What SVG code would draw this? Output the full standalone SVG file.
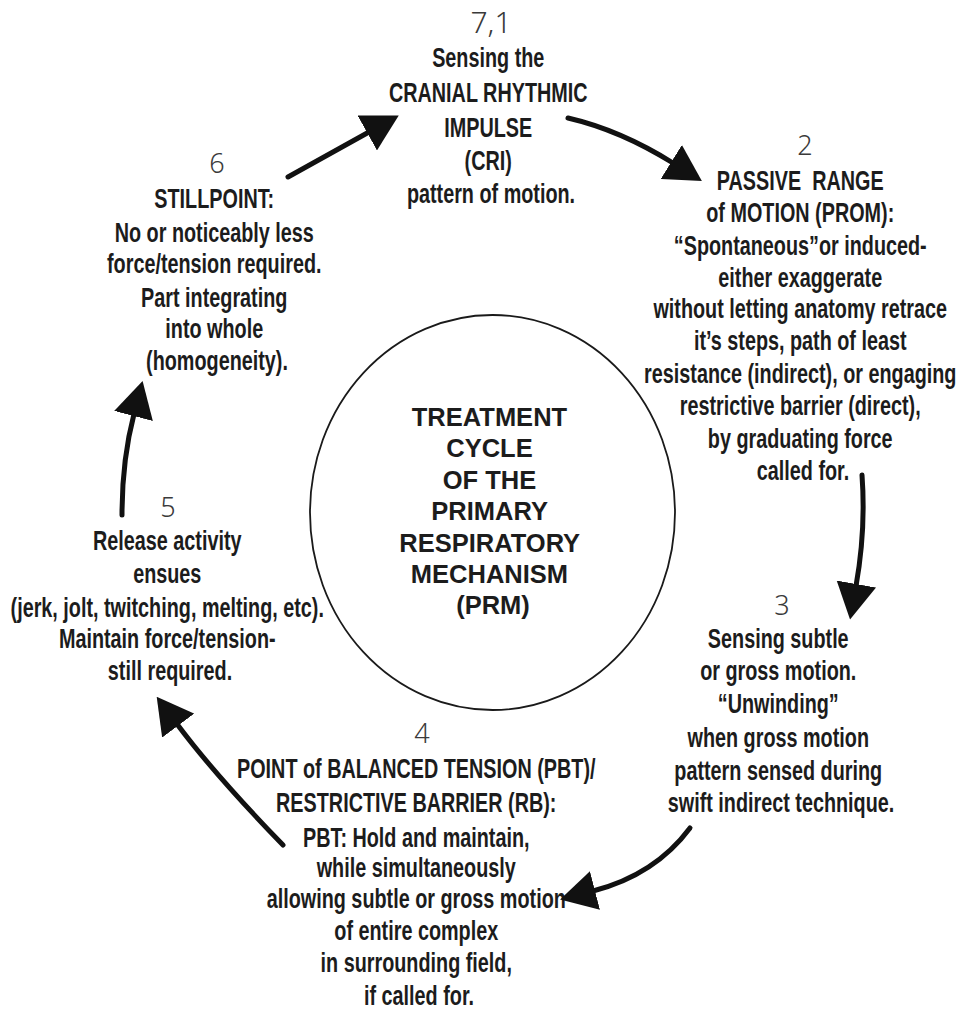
<svg xmlns="http://www.w3.org/2000/svg" width="963" height="1012" viewBox="0 0 963 1012">
  <style>
    .body { font-family: "Liberation Sans", Arial, sans-serif; font-weight: bold; font-size: 27.5px; fill: #1c1c1c; text-anchor: middle; }
    .num { font-family: "Noto Sans", "DejaVu Sans", sans-serif; font-weight: 300; font-size: 27px; fill: #3a3a3a; text-anchor: middle; }
    .title { font-family: "Liberation Sans", Arial, sans-serif; font-weight: bold; font-size: 25.5px; fill: #1c1c1c; text-anchor: middle; }
    .hub { fill: none; stroke: #1a1a1a; stroke-width: 1.8; }
    .flow { fill: none; stroke: #111; stroke-width: 5; stroke-linecap: round; marker-end: url(#head); }
  </style>
  <defs>
    <marker id="head" viewBox="0 0 36 40" refX="2" refY="20" markerWidth="36" markerHeight="40" markerUnits="userSpaceOnUse" orient="auto">
      <path d="M0,0 L36,20 L0,40 Z" fill="#111"/>
    </marker>
  </defs>
  <rect width="963" height="1012" fill="#ffffff"/>

  <!-- central hub -->
  <g id="hub">
    <ellipse class="hub" cx="492.5" cy="512.5" rx="182.5" ry="197.5"/>
    <text class="title">
      <tspan x="493" y="426">TREATMENT</tspan>
      <tspan x="493" y="457.4">CYCLE</tspan>
      <tspan x="493" y="488.8">OF THE</tspan>
      <tspan x="493" y="520.2">PRIMARY</tspan>
      <tspan x="493" y="551.6">RESPIRATORY</tspan>
      <tspan x="493" y="583">MECHANISM</tspan>
      <tspan x="493" y="614.4">(PRM)</tspan>
    </text>
  </g>

  <!-- step 7,1 -->
  <g id="step-1">
    <text class="num" x="491" y="33" style="font-size:30px">7,1</text>
    <g transform="translate(491 0) scale(0.72 1)">
      <text class="body">
        <tspan x="0" y="67">Sensing the</tspan>
        <tspan x="0" y="102">CRANIAL RHYTHMIC</tspan>
        <tspan x="0" y="137">IMPULSE</tspan>
        <tspan x="0" y="170">(CRI)</tspan>
        <tspan x="0" y="203">pattern of motion.</tspan>
      </text>
    </g>
  </g>

  <!-- step 2 -->
  <g id="step-2">
    <text class="num" x="805" y="155">2</text>
    <g transform="translate(803 0) scale(0.72 1)">
      <text class="body">
        <tspan x="0" y="190" xml:space="preserve">PASSIVE  RANGE</tspan>
        <tspan x="0" y="222">of MOTION (PROM):</tspan>
        <tspan x="0" y="255">“Spontaneous”or induced-</tspan>
        <tspan x="0" y="287">either exaggerate</tspan>
        <tspan x="0" y="318">without letting anatomy retrace</tspan>
        <tspan x="0" y="350">it’s steps, path of least</tspan>
        <tspan x="0" y="383">resistance (indirect), or engaging</tspan>
        <tspan x="0" y="415">restrictive barrier (direct),</tspan>
        <tspan x="0" y="448">by graduating force</tspan>
        <tspan x="0" y="480">called for.</tspan>
      </text>
    </g>
  </g>

  <!-- step 3 -->
  <g id="step-3">
    <text class="num" x="782" y="615">3</text>
    <g transform="translate(781 0) scale(0.72 1)">
      <text class="body">
        <tspan x="0" y="648">Sensing subtle</tspan>
        <tspan x="0" y="680">or gross motion.</tspan>
        <tspan x="0" y="713">“Unwinding”</tspan>
        <tspan x="0" y="747">when gross motion</tspan>
        <tspan x="0" y="780">pattern sensed during</tspan>
        <tspan x="0" y="812">swift indirect technique.</tspan>
      </text>
    </g>
  </g>

  <!-- step 4 -->
  <g id="step-4">
    <text class="num" x="422" y="743">4</text>
    <g transform="translate(419 0) scale(0.72 1)">
      <text class="body">
        <tspan x="0" y="778">POINT of BALANCED TENSION (PBT)/</tspan>
        <tspan x="0" y="812">RESTRICTIVE BARRIER (RB):</tspan>
        <tspan x="0" y="847">PBT: Hold and maintain,</tspan>
        <tspan x="0" y="877">while simultaneously</tspan>
        <tspan x="0" y="908">allowing subtle or gross motion</tspan>
        <tspan x="0" y="940">of entire complex</tspan>
        <tspan x="0" y="972">in surrounding field,</tspan>
        <tspan x="0" y="1005">if called for.</tspan>
      </text>
    </g>
  </g>

  <!-- step 5 -->
  <g id="step-5">
    <text class="num" x="168" y="517">5</text>
    <g transform="translate(170 0) scale(0.72 1)">
      <text class="body">
        <tspan x="0" y="550">Release activity</tspan>
        <tspan x="0" y="583">ensues</tspan>
        <tspan x="0" y="617">(jerk, jolt, twitching, melting, etc).</tspan>
        <tspan x="0" y="648">Maintain force/tension-</tspan>
        <tspan x="0" y="680">still required.</tspan>
      </text>
    </g>
  </g>

  <!-- step 6 -->
  <g id="step-6">
    <text class="num" x="217" y="173">6</text>
    <g transform="translate(217 0) scale(0.72 1)">
      <text class="body">
        <tspan x="0" y="208">STILLPOINT:</tspan>
        <tspan x="0" y="242">No or noticeably less</tspan>
        <tspan x="0" y="273">force/tension required.</tspan>
        <tspan x="0" y="307">Part integrating</tspan>
        <tspan x="0" y="338">into whole</tspan>
        <tspan x="0" y="370">(homogeneity).</tspan>
      </text>
    </g>
  </g>

  <!-- cycle arrows -->
  <g id="connectors">
    <path class="flow" d="M288,177 L369,132"/>
    <path class="flow" d="M568,118 Q620,130 673,163"/>
    <path class="flow" d="M862,475 Q866,530 856,586"/>
    <path class="flow" d="M690,828 Q655,875 593,891"/>
    <path class="flow" d="M283,845 Q215,775 177,724"/>
    <path class="flow" d="M122,515 Q122,460 134,414"/>
  </g>
</svg>
